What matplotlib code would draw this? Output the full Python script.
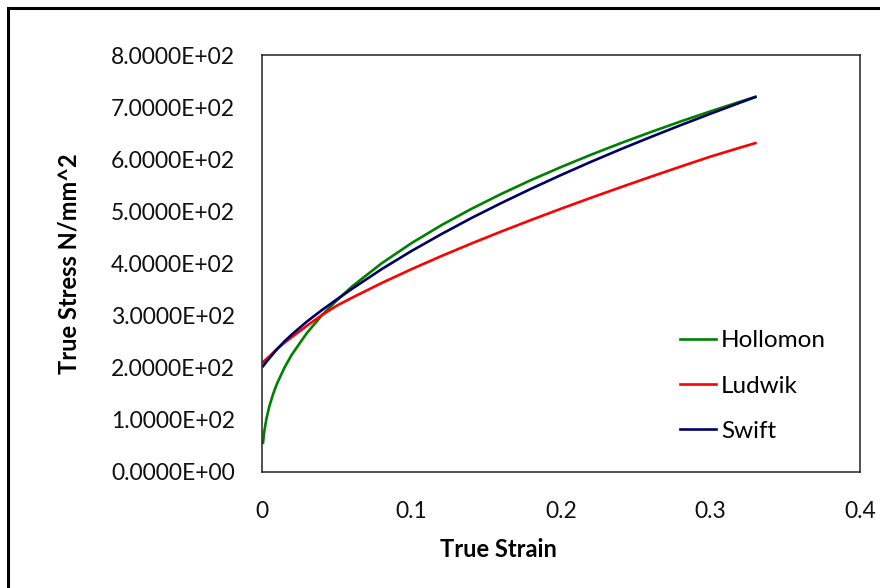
import matplotlib
matplotlib.use('Agg')
from matplotlib import pyplot as plt
from matplotlib.patches import Rectangle
from matplotlib.ticker import FuncFormatter

strain = [0.0007, 0.0015, 0.003, 0.005, 0.0075, 0.01, 0.015, 0.02, 0.03, 0.04, 0.05, 0.06,
          0.08, 0.10, 0.12, 0.14, 0.16, 0.18, 0.20, 0.22, 0.24, 0.26, 0.28, 0.30, 0.32, 0.33]
hollomon = [56.0, 77.3, 102.8, 127.0, 150.2, 169.3, 200.1, 225.5, 266.6, 300.5, 329.2, 355.4,
            400.3, 439.1, 473.5, 504.7, 533.4, 560.1, 585.0, 608.6, 630.9, 652.1, 672.5, 691.9, 710.6, 719.7]
ludwik = [211.0, 213.0, 217.0, 222.0, 229.0, 236.0, 248.0, 259.0, 280.5, 301.0, 319.0, 334.0,
          362.5, 389.1, 414.3, 438.3, 461.3, 483.5, 505.1, 526.0, 546.4, 566.4, 585.9, 605.1, 622.5, 631.0]
swift = [203.0, 206.0, 211.5, 218.5, 227.0, 235.5, 250.5, 264.0, 288.5, 310.5, 331.0, 351.0,
         389.1, 424.0, 456.4, 487.1, 515.9, 543.4, 569.7, 595.0, 619.3, 642.6, 665.3, 687.4, 708.8, 719.3]

x_ticks = [0, 0.1, 0.2, 0.3, 0.4]
y_ticks = [0, 100, 200, 300, 400, 500, 600, 700, 800]

plt.rcParams['font.family'] = ['Lato', 'DejaVu Sans']

fig = plt.figure(figsize=(8.8, 5.88), dpi=100)
ax = fig.add_axes([262/880, 1-472/588, 598/880, 417/588])

ax.plot(strain, hollomon, color='#008000', lw=1.9, label='Hollomon')
ax.plot(strain, ludwik, color='#FF0000', lw=1.9, label='Ludwik')
ax.plot(strain, swift, color='#000066', lw=1.9, label='Swift')

ax.set_xlim(0, 0.4)
ax.set_ylim(0, 800)
ax.set_xticks(x_ticks)
ax.set_yticks(y_ticks)
ax.xaxis.set_major_formatter(FuncFormatter(lambda v, p: '0' if v == 0 else '%g' % v))
ax.yaxis.set_major_formatter(FuncFormatter(lambda v, p: '%.4E' % v))
ax.tick_params(length=0, labelsize=16.5, colors='#111111')
ax.tick_params(axis='x', pad=21)
ax.tick_params(axis='y', pad=19.5)
for s in ax.spines.values():
    s.set_linewidth(1.1)
    s.set_color('#222222')

ax.set_xlabel('True Strain', fontsize=17, fontweight='bold')
ax.set_ylabel('True Stress N/mm^2', fontsize=17, fontweight='bold')
ax.xaxis.set_label_coords(0.396, -0.158)
ax.yaxis.set_label_coords(-0.303, 0.5)

ax.legend(loc='upper left', bbox_to_anchor=(0.699, 0.34), frameon=False, fontsize=17.5,
          handlelength=1.48, handletextpad=0.2, labelspacing=1.0, borderpad=0, borderaxespad=0)

# outer chart border, runs off the right and bottom edges
fig.patches.append(Rectangle((8/880, -0.1), 1.2, 1.1 - 8/588, transform=fig.transFigure,
                             fill=False, edgecolor='black', lw=2.2, clip_on=False))

fig.savefig('out.png', dpi=100)
